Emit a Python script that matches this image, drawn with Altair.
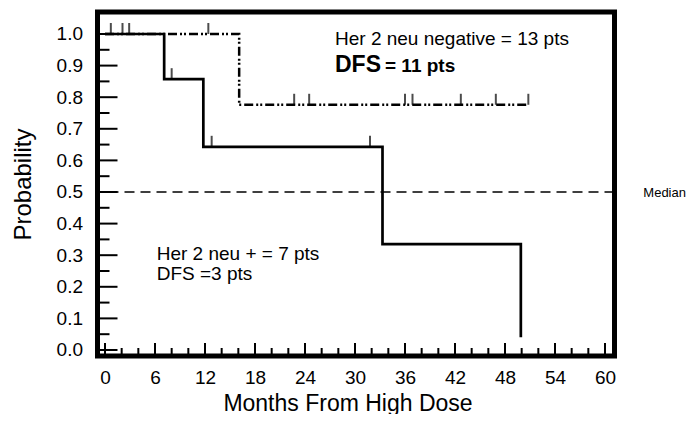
import altair as alt
import pandas as pd

# ---- data ----
# Her 2 neu positive (solid step curve)
pos_months = [0, 7.1, 11.8, 33.3, 49.9]
pos_prob = [1.0, 0.857, 0.643, 0.335, 0.04]
pos_cens_months = [8.0, 12.8, 31.8]
pos_cens_prob = [0.857, 0.643, 0.643]

# Her 2 neu negative (dash-dot step curve)
neg_months = [0, 16.1, 50.8]
neg_prob = [1.0, 0.776, 0.776]
neg_cens_months = [0.7, 2.1, 2.9, 12.4, 22.7, 24.5, 36.0, 36.9, 42.7, 46.9, 50.8]
neg_cens_prob = [1.0, 1.0, 1.0, 1.0, 0.776, 0.776, 0.776, 0.776, 0.776, 0.776, 0.776]

median_level = [0.5]

x_labels = [0, 6, 12, 18, 24, 30, 36, 42, 48, 54, 60]
x_minor = [2, 4, 8, 10, 14, 16, 20, 22, 26, 28, 32, 34, 38, 40, 44, 46, 50, 52, 56, 58]
y_major = [0.0, 0.1, 0.2, 0.3, 0.4, 0.5, 0.6, 0.7, 0.8, 0.9, 1.0]
y_minor = [0.05, 0.15, 0.25, 0.35, 0.45, 0.55, 0.65, 0.75, 0.85, 0.95]

note_text = ["Her 2 neu negative = 13 pts", "Her 2 neu + = 7 pts", "DFS =3 pts", "Median"]
note_m = [27.6, 6.2, 6.2, 64.6]
note_p = [0.965, 0.285, 0.2215, 0.484]
note_size = [19, 19, 19, 13]

bold_text = ["DFS", "= 11 pts"]
bold_m = [27.6, 33.6]
bold_p = [0.881, 0.881]
bold_size = [23, 19]

FONT = "Liberation Sans"

x_enc = alt.X(
    "m:Q",
    scale=alt.Scale(domain=[-0.9, 61.14], nice=False, zero=False),
    axis=alt.Axis(values=x_labels, title="Months From High Dose", labelPadding=12,
                  titlePadding=5, titleFontSize=23, titleX=250),
)
y_enc = alt.Y(
    "p:Q",
    scale=alt.Scale(domain=[-0.019, 1.0696], nice=False, zero=False),
    axis=alt.Axis(values=y_major, format=".1f", title="Probability", labelPadding=15,
                  titlePadding=21, titleFontSize=24),
)

pos_df = pd.DataFrame({"m": pos_months, "p": pos_prob})
neg_df = pd.DataFrame({"m": neg_months, "p": neg_prob})
pos_c = pd.DataFrame({"m": pos_cens_months, "p": pos_cens_prob})
neg_c = pd.DataFrame({"m": neg_cens_months, "p": neg_cens_prob})

pos_line = alt.Chart(pos_df).mark_line(interpolate="step-after", color="black", strokeWidth=2.7).encode(x=x_enc, y=y_enc)
neg_line = alt.Chart(neg_df).mark_line(interpolate="step-after", color="black", strokeWidth=2.5,
                                       strokeDash=[9, 3, 2, 2, 2, 3]).encode(x=x_enc, y=y_enc)
pos_ticks = alt.Chart(pos_c).mark_tick(orient="vertical", size=11, thickness=2, yOffset=-5.5, color="black").encode(x=x_enc, y=y_enc)
neg_ticks = alt.Chart(neg_c).mark_tick(orient="vertical", size=11, thickness=2, yOffset=-5.5, color="black").encode(x=x_enc, y=y_enc)

median = alt.Chart(pd.DataFrame({"p": median_level})).mark_rule(
    color="black", strokeWidth=1.5, strokeDash=[10, 6]).encode(y=y_enc)

ymaj = alt.Chart(pd.DataFrame({"p": y_major})).mark_rule(color="black", strokeWidth=2).encode(
    y=y_enc, x=alt.value(0), x2=alt.value(20))
ymin = alt.Chart(pd.DataFrame({"p": y_minor})).mark_rule(color="black", strokeWidth=2).encode(
    y=y_enc, x=alt.value(0), x2=alt.value(12))
xmaj = alt.Chart(pd.DataFrame({"m": x_labels})).mark_rule(color="black", strokeWidth=2).encode(
    x=x_enc, y=alt.value(344), y2=alt.value(331))
xmin = alt.Chart(pd.DataFrame({"m": x_minor})).mark_rule(color="black", strokeWidth=2).encode(
    x=x_enc, y=alt.value(344), y2=alt.value(336))

notes = alt.Chart(pd.DataFrame({"m": note_m, "p": note_p, "t": note_text, "s": note_size})).mark_text(
    align="left", baseline="alphabetic", font=FONT, color="black").encode(
    x=x_enc, y=y_enc, text="t:N", size=alt.Size("s:Q", scale=None))
bold_notes = alt.Chart(pd.DataFrame({"m": bold_m, "p": bold_p, "t": bold_text, "s": bold_size})).mark_text(
    align="left", baseline="alphabetic", font=FONT, fontWeight="bold", color="black").encode(
    x=x_enc, y=y_enc, text="t:N", size=alt.Size("s:Q", scale=None))

chart = alt.layer(
    ymaj, ymin, xmaj, xmin, median, pos_line, neg_line, pos_ticks, neg_ticks, notes, bold_notes
).properties(
    width=517, height=344,
    autosize=alt.AutoSizeParams(type="none"),
    padding={"left": 89.5, "top": 4, "right": 71, "bottom": 58},
).configure_view(
    stroke="black", strokeWidth=5
).configure_axis(
    domain=False, ticks=False, grid=False, tickSize=0,
    labelFont=FONT, labelFontSize=19, labelColor="black",
    titleFont=FONT, titleFontWeight="normal", titleColor="black",
)

chart.save("out.html", embed_options={"renderer": "svg", "actions": False})
